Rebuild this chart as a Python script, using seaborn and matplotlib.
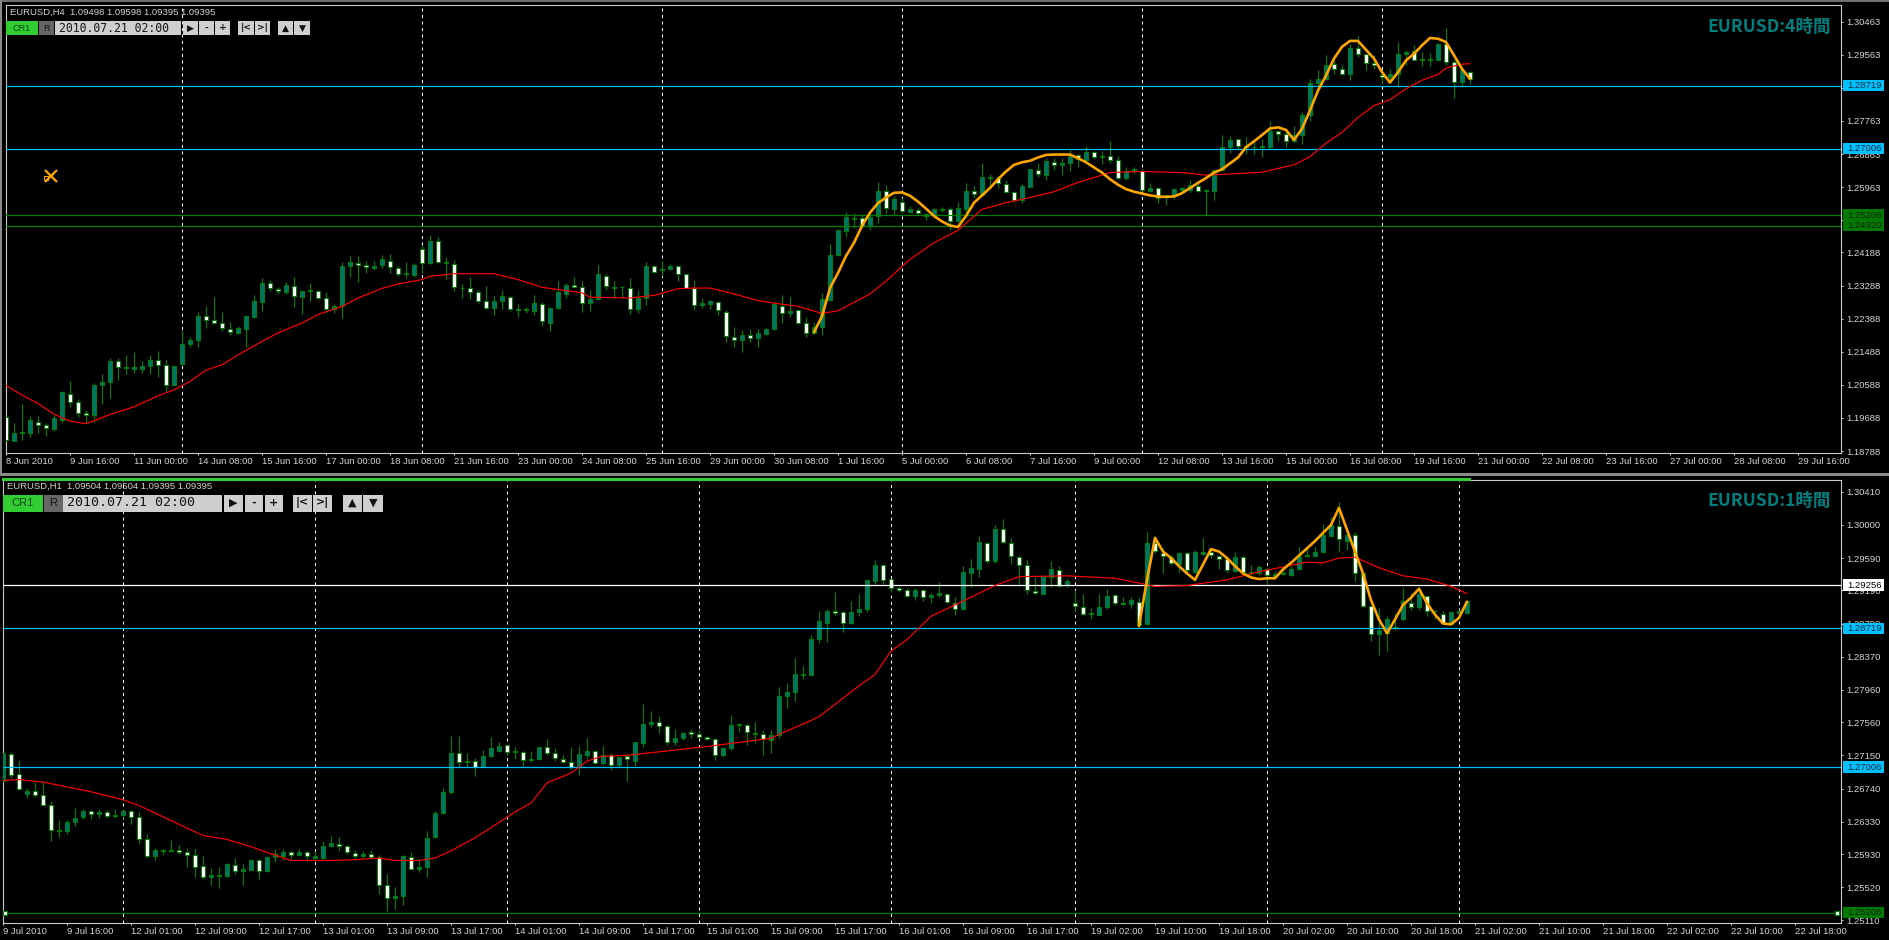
import pandas as pd
import matplotlib
matplotlib.use("Agg")
import matplotlib.pyplot as plt
from matplotlib.patches import Rectangle
import seaborn as sns

# ---- H4 panel data ----
h4_open = [
    1.1970,1.1907,1.1927,1.1929,1.1959,1.1949,1.1940,1.1963,1.2034,1.2012,
    1.1982,1.1976,1.2058,1.2066,1.2124,1.2104,1.2101,1.2101,1.2109,1.2127,
    1.2113,1.2058,1.2115,1.2169,1.2180,1.2246,1.2235,1.2227,1.2211,1.2201,
    1.2211,1.2243,1.2284,1.2336,1.2320,1.2311,1.2328,1.2298,1.2315,1.2315,
    1.2295,1.2265,1.2273,1.2382,1.2391,1.2385,1.2377,1.2385,1.2396,1.2377,
    1.2359,1.2358,1.2427,1.2389,1.2449,1.2389,1.2388,1.2321,1.2322,1.2312,
    1.2288,1.2268,1.2287,1.2298,1.2263,1.2266,1.2260,1.2279,1.2227,1.2268,
    1.2306,1.2331,1.2326,1.2280,1.2293,1.2355,1.2323,1.2325,1.2322,1.2265,
    1.2295,1.2383,1.2372,1.2374,1.2381,1.2359,1.2322,1.2277,1.2279,1.2285,
    1.2258,1.2189,1.2180,1.2194,1.2186,1.2197,1.2210,1.2274,1.2254,1.2261,
    1.2228,1.2199,1.2216,1.2290,1.2413,1.2478,1.2511,1.2512,1.2492,1.2517,
    1.2585,1.2538,1.2555,1.2530,1.2535,1.2524,1.2520,1.2535,1.2536,1.2503,
    1.2537,1.2585,1.2576,1.2621,1.2622,1.2606,1.2582,1.2561,1.2598,1.2644,
    1.2629,1.2664,1.2656,1.2661,1.2685,1.2670,1.2691,1.2677,1.2680,1.2669,
    1.2620,1.2641,1.2641,1.2586,1.2593,1.2570,1.2571,1.2588,1.2588,1.2600,
    1.2586,1.2587,1.2643,1.2705,1.2726,1.2705,1.2705,1.2706,1.2706,1.2749,
    1.2740,1.2721,1.2737,1.2792,1.2879,1.2890,1.2931,1.2918,1.2905,1.2976,
    1.2958,1.2934,1.2901,1.2895,1.2905,1.2959,1.2966,1.2943,1.2943,1.2942,
    1.2987,1.2937,1.2882,1.2909]
h4_high = [
    1.1981,1.1956,1.2007,1.1974,1.1974,1.1956,1.1977,1.2042,1.2070,1.2019,
    1.1990,1.2063,1.2088,1.2131,1.2133,1.2140,1.2147,1.2124,1.2139,1.2152,
    1.2127,1.2111,1.2209,1.2188,1.2256,1.2272,1.2297,1.2256,1.2231,1.2220,
    1.2248,1.2302,1.2348,1.2345,1.2324,1.2338,1.2352,1.2315,1.2336,1.2318,
    1.2311,1.2279,1.2392,1.2409,1.2409,1.2395,1.2395,1.2412,1.2415,1.2383,
    1.2392,1.2391,1.2438,1.2466,1.2461,1.2406,1.2397,1.2334,1.2351,1.2318,
    1.2327,1.2300,1.2316,1.2300,1.2279,1.2270,1.2304,1.2283,1.2271,1.2342,
    1.2336,1.2352,1.2341,1.2318,1.2386,1.2359,1.2341,1.2327,1.2350,1.2318,
    1.2392,1.2386,1.2395,1.2388,1.2382,1.2361,1.2343,1.2295,1.2290,1.2286,
    1.2261,1.2215,1.2207,1.2211,1.2210,1.2213,1.2281,1.2302,1.2297,1.2263,
    1.2242,1.2231,1.2309,1.2441,1.2482,1.2530,1.2527,1.2523,1.2523,1.2611,
    1.2603,1.2573,1.2568,1.2545,1.2539,1.2527,1.2539,1.2543,1.2543,1.2556,
    1.2607,1.2600,1.2663,1.2632,1.2627,1.2617,1.2586,1.2605,1.2646,1.2663,
    1.2675,1.2675,1.2675,1.2697,1.2686,1.2708,1.2694,1.2695,1.2723,1.2681,
    1.2650,1.2650,1.2645,1.2608,1.2597,1.2574,1.2594,1.2597,1.2615,1.2614,
    1.2591,1.2646,1.2738,1.2736,1.2727,1.2734,1.2723,1.2727,1.2777,1.2750,
    1.2746,1.2763,1.2800,1.2891,1.2916,1.2955,1.2941,1.2928,1.2985,1.3007,
    1.2959,1.2955,1.2914,1.2918,1.2990,1.2968,1.2984,1.2964,1.2961,1.2989,
    1.3029,1.2941,1.2916,1.2911]
h4_low = [
    1.1899,1.1906,1.1910,1.1917,1.1929,1.1920,1.1933,1.1957,1.1999,1.1972,
    1.1954,1.1958,1.2006,1.2022,1.2072,1.2089,1.2092,1.2090,1.2088,1.2081,
    1.2040,1.2057,1.2113,1.2161,1.2161,1.2213,1.2225,1.2204,1.2195,1.2197,
    1.2163,1.2240,1.2259,1.2313,1.2306,1.2306,1.2270,1.2251,1.2288,1.2292,
    1.2254,1.2254,1.2240,1.2352,1.2338,1.2363,1.2372,1.2377,1.2363,1.2354,
    1.2350,1.2352,1.2363,1.2388,1.2389,1.2347,1.2315,1.2295,1.2293,1.2282,
    1.2266,1.2248,1.2264,1.2259,1.2243,1.2254,1.2250,1.2220,1.2204,1.2266,
    1.2295,1.2324,1.2257,1.2259,1.2290,1.2318,1.2295,1.2295,1.2251,1.2254,
    1.2277,1.2365,1.2354,1.2371,1.2341,1.2321,1.2261,1.2268,1.2265,1.2248,
    1.2175,1.2163,1.2148,1.2175,1.2163,1.2195,1.2208,1.2227,1.2242,1.2226,
    1.2190,1.2198,1.2195,1.2288,1.2410,1.2461,1.2486,1.2486,1.2480,1.2500,
    1.2527,1.2524,1.2527,1.2528,1.2524,1.2506,1.2518,1.2530,1.2479,1.2502,
    1.2518,1.2568,1.2574,1.2595,1.2593,1.2581,1.2557,1.2552,1.2597,1.2625,
    1.2616,1.2644,1.2630,1.2639,1.2650,1.2668,1.2672,1.2659,1.2661,1.2619,
    1.2615,1.2632,1.2586,1.2582,1.2554,1.2548,1.2563,1.2584,1.2584,1.2584,
    1.2520,1.2562,1.2641,1.2688,1.2700,1.2686,1.2686,1.2679,1.2703,1.2723,
    1.2706,1.2718,1.2714,1.2777,1.2867,1.2887,1.2905,1.2901,1.2887,1.2950,
    1.2914,1.2918,1.2878,1.2879,1.2868,1.2928,1.2941,1.2926,1.2926,1.2941,
    1.2928,1.2838,1.2868,1.2878]
h4_close = [
    1.1908,1.1928,1.1931,1.1963,1.1949,1.1941,1.1969,1.2038,1.2012,1.1982,
    1.1977,1.2059,1.2067,1.2124,1.2108,1.2108,1.2106,1.2111,1.2127,1.2113,
    1.2059,1.2111,1.2170,1.2181,1.2247,1.2236,1.2228,1.2212,1.2203,1.2212,
    1.2245,1.2288,1.2337,1.2321,1.2313,1.2330,1.2299,1.2315,1.2316,1.2296,
    1.2266,1.2274,1.2383,1.2394,1.2386,1.2378,1.2383,1.2400,1.2379,1.2359,
    1.2362,1.2386,1.2389,1.2449,1.2392,1.2392,1.2324,1.2323,1.2312,1.2288,
    1.2269,1.2288,1.2299,1.2266,1.2266,1.2261,1.2280,1.2233,1.2269,1.2310,
    1.2331,1.2326,1.2281,1.2293,1.2359,1.2327,1.2326,1.2326,1.2266,1.2295,
    1.2382,1.2366,1.2374,1.2382,1.2359,1.2322,1.2277,1.2281,1.2286,1.2261,
    1.2192,1.2181,1.2195,1.2187,1.2199,1.2211,1.2279,1.2254,1.2260,1.2228,
    1.2200,1.2216,1.2291,1.2413,1.2479,1.2514,1.2513,1.2491,1.2515,1.2586,
    1.2539,1.2564,1.2531,1.2537,1.2525,1.2519,1.2537,1.2536,1.2503,1.2539,
    1.2586,1.2577,1.2625,1.2623,1.2609,1.2583,1.2561,1.2599,1.2645,1.2632,
    1.2667,1.2656,1.2663,1.2682,1.2672,1.2692,1.2677,1.2681,1.2670,1.2621,
    1.2641,1.2645,1.2588,1.2593,1.2568,1.2574,1.2591,1.2593,1.2603,1.2585,
    1.2589,1.2643,1.2706,1.2725,1.2708,1.2708,1.2706,1.2709,1.2750,1.2741,
    1.2722,1.2738,1.2793,1.2880,1.2891,1.2929,1.2918,1.2905,1.2976,1.2959,
    1.2935,1.2929,1.2897,1.2905,1.2959,1.2964,1.2943,1.2946,1.2946,1.2987,
    1.2937,1.2883,1.2914,1.2890]

h4_ma_bar = [0,2,4,6,8,10,13,16,19,21,23,25,27,29,32,34,37,39,42,44,47,49,52,53,56,61,64,67,69,72,73,
             78,81,84,86,88,91,94,96,99,102,104,108,110,113,116,119,122,125,128,131,134,138,142,147,150,153,
             157,159,161,163,165,167,169,171,173,175,177,179,180,182,183]
h4_ma = [1.2057,1.2031,1.2008,1.1979,1.1960,1.1953,1.1978,1.1999,1.2029,1.2045,1.2068,1.2099,1.2113,1.2140,
         1.2177,1.2200,1.2227,1.2250,1.2272,1.2295,1.2321,1.2333,1.2345,1.2354,1.2361,1.2361,1.2345,1.2324,
         1.2318,1.2309,1.2297,1.2295,1.2302,1.2320,1.2322,1.2322,1.2306,1.2288,1.2281,1.2272,1.2253,1.2260,
         1.2306,1.2341,1.2400,1.2445,1.2479,1.2536,1.2554,1.2568,1.2584,1.2609,1.2636,1.2639,1.2636,1.2629,
         1.2632,1.2637,1.2647,1.2657,1.2679,1.2716,1.2745,1.2786,1.2818,1.2834,1.2864,1.2887,1.2903,1.2920,
         1.2931,1.2932]
h4_zz_bar = list(range(101, 184))
h4_zz = [1.2202,1.2245,1.2322,1.2363,1.2409,1.2445,1.2491,1.2527,1.2553,1.2568,1.2581,1.2582,1.2573,1.2557,
         1.2538,1.2518,1.2503,1.2492,1.2488,1.2518,1.2554,1.2574,1.2594,1.2618,1.2639,1.2657,1.2664,1.2668,
         1.2677,1.2684,1.2685,1.2685,1.2685,1.2675,1.2664,1.2650,1.2636,1.2618,1.2603,1.2591,1.2584,1.2579,
         1.2574,1.2571,1.2570,1.2571,1.2580,1.2594,1.2608,1.2621,1.2636,1.2645,1.2661,1.2677,1.2705,1.2721,
         1.2738,1.2756,1.2759,1.2752,1.2725,1.2755,1.2805,1.2859,1.2900,1.2946,1.2978,1.2994,1.2994,1.2970,
         1.2946,1.2909,1.2881,1.2909,1.2941,1.2959,1.2982,1.3002,1.3000,1.2991,1.2955,1.2918,1.2891]

h4_xlabels = ["8 Jun 2010","9 Jun 16:00","11 Jun 00:00","14 Jun 08:00","15 Jun 16:00","17 Jun 00:00",
              "18 Jun 08:00","21 Jun 16:00","23 Jun 00:00","24 Jun 08:00","25 Jun 16:00","29 Jun 00:00",
              "30 Jun 08:00","1 Jul 16:00","5 Jul 00:00","6 Jul 08:00","7 Jul 16:00","9 Jul 00:00",
              "12 Jul 08:00","13 Jul 16:00","15 Jul 00:00","16 Jul 08:00","19 Jul 16:00","21 Jul 00:00",
              "22 Jul 08:00","23 Jul 16:00","27 Jul 00:00","28 Jul 08:00","29 Jul 16:00"]
h4_yticks = [1.30463,1.29563,1.28663,1.27763,1.26863,1.25963,1.25063,1.24188,1.23288,1.22388,1.21488,
             1.20588,1.19688,1.18788]
h4_grid_bars = [22,52,82,112,142,172]

# ---- H1 panel data ----
h1_open = [
    1.2683,1.2717,1.2692,1.2667,1.2671,1.2666,1.2653,1.2622,1.2621,1.2632,
    1.2639,1.2646,1.2642,1.2645,1.2640,1.2641,1.2646,1.2639,1.2612,1.2590,
    1.2597,1.2597,1.2598,1.2595,1.2592,1.2578,1.2565,1.2566,1.2566,1.2579,
    1.2572,1.2573,1.2586,1.2572,1.2589,1.2591,1.2595,1.2592,1.2595,1.2588,
    1.2588,1.2603,1.2606,1.2603,1.2594,1.2590,1.2593,1.2589,1.2555,1.2538,
    1.2541,1.2589,1.2575,1.2577,1.2614,1.2644,1.2670,1.2718,1.2707,1.2708,
    1.2701,1.2714,1.2720,1.2728,1.2719,1.2719,1.2709,1.2711,1.2725,1.2718,
    1.2710,1.2707,1.2700,1.2716,1.2720,1.2705,1.2716,1.2703,1.2714,1.2708,
    1.2730,1.2754,1.2756,1.2751,1.2731,1.2737,1.2744,1.2741,1.2738,1.2735,
    1.2715,1.2724,1.2753,1.2753,1.2741,1.2742,1.2734,1.2740,1.2788,1.2793,
    1.2814,1.2814,1.2859,1.2879,1.2893,1.2892,1.2879,1.2892,1.2896,1.2931,
    1.2950,1.2933,1.2922,1.2919,1.2912,1.2919,1.2911,1.2913,1.2915,1.2904,
    1.2896,1.2941,1.2946,1.2977,1.2955,1.2995,1.2978,1.2960,1.2951,1.2918,
    1.2915,1.2935,1.2944,1.2926,1.2904,1.2899,1.2890,1.2889,1.2898,1.2913,
    1.2902,1.2902,1.2905,1.2877,1.2977,1.2965,1.2960,1.2952,1.2965,1.2942,
    1.2964,1.2967,1.2962,1.2958,1.2943,1.2960,1.2941,1.2940,1.2945,1.2937,
    1.2939,1.2938,1.2945,1.2961,1.2962,1.2967,1.2986,1.2999,1.2980,1.2987,
    1.2940,1.2900,1.2865,1.2866,1.2872,1.2883,1.2904,1.2898,1.2912,1.2893,
    1.2890,1.2877,1.2891,1.2891]
h1_high = [
    1.2722,1.2719,1.2709,1.2675,1.2682,1.2683,1.2659,1.2635,1.2635,1.2650,
    1.2649,1.2648,1.2649,1.2647,1.2649,1.2648,1.2647,1.2645,1.2618,1.2600,
    1.2599,1.2610,1.2604,1.2600,1.2600,1.2590,1.2576,1.2577,1.2582,1.2588,
    1.2581,1.2587,1.2587,1.2590,1.2599,1.2599,1.2597,1.2599,1.2597,1.2597,
    1.2609,1.2615,1.2614,1.2604,1.2598,1.2597,1.2598,1.2592,1.2568,1.2552,
    1.2592,1.2595,1.2587,1.2621,1.2646,1.2675,1.2739,1.2739,1.2718,1.2712,
    1.2722,1.2738,1.2732,1.2728,1.2725,1.2720,1.2721,1.2725,1.2735,1.2724,
    1.2716,1.2725,1.2727,1.2737,1.2721,1.2726,1.2718,1.2714,1.2717,1.2732,
    1.2778,1.2770,1.2764,1.2752,1.2748,1.2744,1.2747,1.2746,1.2739,1.2737,
    1.2725,1.2765,1.2755,1.2754,1.2756,1.2746,1.2746,1.2799,1.2804,1.2835,
    1.2826,1.2864,1.2893,1.2896,1.2917,1.2893,1.2906,1.2914,1.2932,1.2956,
    1.2951,1.2933,1.2924,1.2922,1.2922,1.2921,1.2916,1.2929,1.2916,1.2911,
    1.2949,1.2958,1.2986,1.2979,1.3000,1.3007,1.2984,1.2962,1.2957,1.2936,
    1.2938,1.2955,1.2949,1.2933,1.2919,1.2914,1.2897,1.2914,1.2921,1.2914,
    1.2911,1.2911,1.2911,1.2991,1.2984,1.2972,1.2963,1.2966,1.2966,1.2969,
    1.2984,1.2972,1.2963,1.2960,1.2966,1.2961,1.2951,1.2951,1.2948,1.2943,
    1.2944,1.2949,1.2973,1.2971,1.2973,1.3001,1.3010,1.3028,1.2992,1.2991,
    1.2942,1.2901,1.2897,1.2887,1.2891,1.2922,1.2916,1.2920,1.2912,1.2895,
    1.2893,1.2893,1.2895,1.2907]
h1_low = [
    1.2683,1.2687,1.2672,1.2662,1.2663,1.2653,1.2609,1.2614,1.2618,1.2628,
    1.2636,1.2636,1.2637,1.2637,1.2637,1.2637,1.2630,1.2606,1.2588,1.2586,
    1.2592,1.2597,1.2593,1.2577,1.2565,1.2562,1.2555,1.2551,1.2565,1.2568,
    1.2555,1.2573,1.2562,1.2571,1.2583,1.2586,1.2587,1.2590,1.2584,1.2584,
    1.2586,1.2602,1.2597,1.2593,1.2586,1.2588,1.2588,1.2543,1.2523,1.2525,
    1.2530,1.2574,1.2571,1.2565,1.2613,1.2643,1.2667,1.2700,1.2700,1.2690,
    1.2700,1.2713,1.2719,1.2716,1.2710,1.2702,1.2707,1.2709,1.2716,1.2708,
    1.2706,1.2698,1.2691,1.2710,1.2704,1.2703,1.2697,1.2701,1.2683,1.2702,
    1.2725,1.2750,1.2743,1.2728,1.2728,1.2734,1.2737,1.2736,1.2734,1.2709,
    1.2713,1.2722,1.2744,1.2728,1.2730,1.2716,1.2718,1.2737,1.2774,1.2782,
    1.2809,1.2814,1.2854,1.2855,1.2888,1.2868,1.2878,1.2887,1.2892,1.2927,
    1.2927,1.2917,1.2917,1.2911,1.2907,1.2906,1.2904,1.2911,1.2903,1.2889,
    1.2895,1.2923,1.2936,1.2953,1.2953,1.2977,1.2952,1.2924,1.2915,1.2915,
    1.2914,1.2923,1.2923,1.2923,1.2893,1.2889,1.2883,1.2888,1.2896,1.2901,
    1.2901,1.2897,1.2872,1.2876,1.2965,1.2941,1.2951,1.2942,1.2940,1.2940,
    1.2963,1.2959,1.2945,1.2942,1.2942,1.2940,1.2938,1.2938,1.2926,1.2936,
    1.2938,1.2937,1.2944,1.2960,1.2961,1.2965,1.2986,1.2966,1.2969,1.2930,
    1.2899,1.2856,1.2839,1.2844,1.2870,1.2881,1.2895,1.2895,1.2887,1.2883,
    1.2878,1.2877,1.2890,1.2890]
h1_close = [
    1.2718,1.2691,1.2674,1.2671,1.2666,1.2654,1.2623,1.2623,1.2633,1.2638,
    1.2646,1.2642,1.2645,1.2640,1.2641,1.2646,1.2639,1.2612,1.2590,1.2598,
    1.2598,1.2598,1.2595,1.2592,1.2577,1.2565,1.2567,1.2567,1.2581,1.2572,
    1.2574,1.2586,1.2572,1.2589,1.2593,1.2595,1.2592,1.2596,1.2590,1.2590,
    1.2603,1.2607,1.2603,1.2595,1.2591,1.2593,1.2589,1.2555,1.2538,1.2541,
    1.2590,1.2575,1.2577,1.2613,1.2644,1.2670,1.2718,1.2707,1.2708,1.2701,
    1.2714,1.2724,1.2727,1.2719,1.2721,1.2709,1.2711,1.2725,1.2718,1.2712,
    1.2707,1.2700,1.2717,1.2720,1.2706,1.2716,1.2703,1.2713,1.2710,1.2731,
    1.2754,1.2756,1.2751,1.2732,1.2737,1.2743,1.2742,1.2738,1.2735,1.2716,
    1.2724,1.2753,1.2754,1.2744,1.2743,1.2735,1.2740,1.2789,1.2793,1.2816,
    1.2816,1.2859,1.2881,1.2893,1.2891,1.2879,1.2892,1.2896,1.2932,1.2951,
    1.2932,1.2922,1.2919,1.2912,1.2919,1.2911,1.2913,1.2916,1.2905,1.2896,
    1.2942,1.2947,1.2979,1.2955,1.2995,1.2979,1.2962,1.2951,1.2920,1.2916,
    1.2937,1.2945,1.2925,1.2931,1.2900,1.2890,1.2891,1.2898,1.2912,1.2903,
    1.2904,1.2907,1.2876,1.2977,1.2968,1.2962,1.2953,1.2965,1.2944,1.2966,
    1.2967,1.2963,1.2958,1.2944,1.2960,1.2942,1.2942,1.2948,1.2938,1.2939,
    1.2940,1.2945,1.2962,1.2963,1.2967,1.2988,1.3000,1.2982,1.2987,1.2940,
    1.2900,1.2865,1.2870,1.2884,1.2874,1.2906,1.2898,1.2915,1.2894,1.2894,
    1.2879,1.2892,1.2893,1.2906]

h1_ma_bar = [0,2,5,8,11,15,17,20,23,25,28,31,33,36,41,44,47,49,52,54,56,59,62,64,66,68,71,73,75,
             78,88,96,97,101,102,104,107,109,111,113,116,119,124,127,133,139,142,144,148,153,
             157,158,163,165,167,169,172,175,178,181,183]
h1_ma = [1.2684,1.2685,1.2682,1.2676,1.2670,1.2660,1.2653,1.2639,1.2625,1.2616,1.2611,1.2602,1.2595,1.2585,
         1.2585,1.2586,1.2588,1.2585,1.2585,1.2588,1.2597,1.2613,1.2632,1.2645,1.2656,1.2681,1.2693,1.2708,
         1.2714,1.2715,1.2726,1.2736,1.2741,1.2758,1.2763,1.2778,1.2801,1.2815,1.2844,1.2858,1.2887,1.2901,
         1.2925,1.2936,1.2937,1.2934,1.2928,1.2924,1.2925,1.2932,1.2942,1.2944,1.2954,1.2953,1.2959,1.2960,
         1.2947,1.2937,1.2933,1.2924,1.2915]
h1_zz_bar = list(range(142, 184))
h1_zz = [1.2875,1.2932,1.2984,1.2967,1.2959,1.2949,1.2940,1.2932,1.2951,1.2970,1.2967,1.2959,1.2949,1.2940,
         1.2935,1.2933,1.2934,1.2934,1.2945,1.2953,1.2962,1.2971,1.2980,1.2990,1.3000,1.3021,1.2994,1.2967,
         1.2940,1.2907,1.2883,1.2866,1.2883,1.2901,1.2910,1.2921,1.2903,1.2889,1.2878,1.2877,1.2885,1.2905]

h1_xlabels = ["9 Jul 2010","9 Jul 16:00","12 Jul 01:00","12 Jul 09:00","12 Jul 17:00","13 Jul 01:00",
              "13 Jul 09:00","13 Jul 17:00","14 Jul 01:00","14 Jul 09:00","14 Jul 17:00","15 Jul 01:00",
              "15 Jul 09:00","15 Jul 17:00","16 Jul 01:00","16 Jul 09:00","16 Jul 17:00","19 Jul 02:00",
              "19 Jul 10:00","19 Jul 18:00","20 Jul 02:00","20 Jul 10:00","20 Jul 18:00","21 Jul 02:00",
              "21 Jul 10:00","21 Jul 18:00","22 Jul 02:00","22 Jul 10:00","22 Jul 18:00"]
h1_yticks = [1.30410,1.30000,1.29590,1.29190,1.28780,1.28370,1.27960,1.27560,1.27150,1.26740,1.26330,
             1.25930,1.25520,1.25110]
h1_grid_bars = [15,39,63,87,111,134,158,182]

# level lines: price, colour
h4_levels = [(1.28719,"#00BFFF"),(1.27006,"#00BFFF"),(1.25206,"#008000"),(1.24920,"#008000")]
h1_levels = [(1.29256,"#FFFFFF"),(1.28719,"#00BFFF"),(1.27006,"#00BFFF"),(1.25206,"#008000")]

W, H = 1890, 940
TICK_EVERY = 8
TXT = "#d4d4d4"

sns.set_theme(style="dark", rc={"figure.facecolor": "black", "axes.facecolor": "black",
                                "axes.edgecolor": "#c8c8c8", "text.color": TXT,
                                "xtick.color": TXT, "ytick.color": TXT})
plt.rcParams["font.family"] = ["Liberation Sans", "Noto Sans CJK JP", "DejaVu Sans"]

fig = plt.figure(figsize=(W / 100, H / 100), dpi=100)


def panel(left, top, right, bottom, ymax, ymin, xmin):
    ax = fig.add_axes([left / W, 1 - bottom / H, (right - left) / W, (bottom - top) / H])
    ax.set_xlim(xmin, xmin + (right - left) / 8)
    ax.set_ylim(ymin, ymax)
    for s in ax.spines.values():
        s.set_linewidth(0.8)
        s.set_color("#c8c8c8")
    return ax


def draw_panel(ax, o, h, l, c, ma_bar, ma, zz_bar, zz, grid_bars, levels, yticks, xlabels):
    df = pd.DataFrame({"open": o, "high": h, "low": l, "close": c})
    df["bar"] = df.index
    up = df[df["close"] >= df["open"]]
    down = df[df["close"] < df["open"]]

    for b in grid_bars:
        ax.axvline(b, color="white", lw=0.72, ls=(0, (3, 3.5)), zorder=1)

    ax.vlines(df["bar"], df["low"], df["high"], color="#008000", lw=0.8, zorder=2)
    ax.bar(up["bar"], up["close"] - up["open"], bottom=up["open"], width=0.5,
           color="#007270", edgecolor="#008000", linewidth=0.75, zorder=3)
    ax.bar(down["bar"], down["open"] - down["close"], bottom=down["close"], width=0.5,
           color="white", edgecolor="#008000", linewidth=0.75, zorder=3)

    for price, col in levels:
        ax.axhline(price, color=col, lw=0.9, zorder=4)

    sns.lineplot(x=ma_bar, y=ma, color="#FF0000", lw=0.85, estimator=None, sort=False, ax=ax, zorder=5)
    sns.lineplot(x=zz_bar, y=zz, color="#FFA500", lw=1.9, estimator=None, sort=False, ax=ax, zorder=6)

    ax.set_xlabel("")
    ax.set_ylabel("")
    ax.yaxis.tick_right()
    ax.set_yticks(yticks)
    ax.set_yticklabels([f"{v:.5f}" for v in yticks], fontsize=6.8)
    ax.set_xticks([i * TICK_EVERY for i in range(len(xlabels))])
    ax.set_xticklabels(xlabels, fontsize=6.8, ha="left")
    ax.tick_params(axis="both", length=1.6, width=0.7, pad=2, color=TXT, bottom=True, right=True)
    ax.tick_params(axis="x", pad=1.5)


def price_tag(ax, price, fill, text_col="#102a3a", px_per_price=1.0, ax_width=1835):
    trans = ax.get_yaxis_transform()
    half = 5.6 / px_per_price
    ax.add_patch(Rectangle((1 + 2 / ax_width, price - half), 41 / ax_width, 2 * half, transform=trans,
                           facecolor=fill, edgecolor="none", clip_on=False, zorder=10))
    ax.text(1 + 6 / ax_width, price, f"{price:.5f}", transform=trans, fontsize=6.8, color=text_col,
            va="center", ha="left", clip_on=False, zorder=11)


# top panel, 4 hours
h4_ymax, h4_ymin = 1.30917, 1.18734
ax_h4 = panel(6, 5, 1841, 453, h4_ymax, h4_ymin, 0)
draw_panel(ax_h4, h4_open, h4_high, h4_low, h4_close, h4_ma_bar, h4_ma, h4_zz_bar, h4_zz,
           h4_grid_bars, h4_levels, h4_yticks, h4_xlabels)
px4 = 448 / (h4_ymax - h4_ymin)
price_tag(ax_h4, 1.28719, "#00BFFF", px_per_price=px4, ax_width=1835)
price_tag(ax_h4, 1.27006, "#00BFFF", px_per_price=px4, ax_width=1835)
price_tag(ax_h4, 1.25206, "#007a00", "#06240a", px4, 1835)
price_tag(ax_h4, 1.24920, "#007a00", "#06240a", px4, 1835)
ax_h4.text(0.9946, 0.952, "EURUSD:4時間", transform=ax_h4.transAxes, color="#007f7f", fontsize=12.6,
           fontweight="bold", ha="right", va="center", family=["Noto Sans CJK JP", "DejaVu Sans"], zorder=9)
# arrow marker left on the chart
ax_h4.plot([5.6], [1.2628], marker="x", ms=9, mew=1.6, color="#FFA500", zorder=7)
ax_h4.plot([5.0], [1.2622], marker="s", ms=3.5, mew=0.8, mfc="none", color="#FFA500", zorder=7)

# bottom panel, 1 hour
h1_ymax, h1_ymin = 1.30555, 1.25077
ax_h1 = panel(3, 480, 1841, 923, h1_ymax, h1_ymin, 0)
draw_panel(ax_h1, h1_open, h1_high, h1_low, h1_close, h1_ma_bar, h1_ma, h1_zz_bar, h1_zz,
           h1_grid_bars, h1_levels, h1_yticks, h1_xlabels)
px1 = 443 / (h1_ymax - h1_ymin)
price_tag(ax_h1, 1.29256, "#FFFFFF", "#000000", px1, 1838)
price_tag(ax_h1, 1.28719, "#00BFFF", px_per_price=px1, ax_width=1838)
price_tag(ax_h1, 1.27006, "#00BFFF", px_per_price=px1, ax_width=1838)
price_tag(ax_h1, 1.25206, "#007a00", "#06240a", px1, 1838)
ax_h1.text(0.9946, 0.953, "EURUSD:1時間", transform=ax_h1.transAxes, color="#007f7f", fontsize=12.6,
           fontweight="bold", ha="right", va="center", family=["Noto Sans CJK JP", "DejaVu Sans"], zorder=9)
for b in [0.25, 229.2]:
    ax_h1.plot([b], [1.25206], marker="s", ms=3, mew=0.8, mfc="white", mec="#008000", zorder=7, clip_on=False)

# window chrome and the little toolbars, in pixels on an overlay
ui = fig.add_axes([0, 0, 1, 1], facecolor="none", zorder=20)
ui.set_xlim(0, W)
ui.set_ylim(H, 0)
ui.axis("off")


def box(x0, y0, x1, y1, fc, ec="none"):
    ui.add_patch(Rectangle((x0, y0), x1 - x0, y1 - y0, facecolor=fc, edgecolor=ec, lw=0.6))


box(0, 0, W, 2, "#707070")
box(0, 0, 2, 476, "#8a8a8a")
box(0, 473, W, 476, "#8a8a8a")
box(2, 478, 1471, 481, "#32CD32")


def toolbar(x, ymid, h_half, cr, r, date, btns, fs, mono_fs, label, label_x, label_y):
    ui.text(label_x, label_y, label, fontsize=6.8, color=TXT, va="center", ha="left")
    y0, y1 = ymid - h_half, ymid + h_half
    box(cr[0], y0, cr[1], y1, "#32CD32")
    ui.text((cr[0] + cr[1]) / 2, ymid + 0.5, "CR1", fontsize=fs, color="#0a4a12", ha="center", va="center")
    box(r[0], y0, r[1], y1, "#666666")
    ui.text((r[0] + r[1]) / 2, ymid + 0.5, "R", fontsize=fs, color="#151515", ha="center", va="center")
    box(date[0], y0, date[1], y1, "#cfcfcf")
    ui.text(date[0] + 4, ymid, "2010.07.21 02:00", fontsize=mono_fs, color="#151515", ha="left", va="center",
            family="DejaVu Sans Mono")
    for (b0, b1), mark in btns:
        box(b0, y0, b1, y1, "#cfcfcf")
        ui.text((b0 + b1) / 2, ymid, mark, fontsize=fs, color="#111111", ha="center", va="center",
                family=["DejaVu Sans"], fontweight="bold")


toolbar(0, 28, 7, (6, 38), (39, 54), (55, 181),
        [((183, 198), "▶"), ((199, 214), "-"), ((215, 230), "+"), ((238, 254), "|<"), ((255, 270), ">|"),
         ((278, 293), "▲"), ((294, 310), "▼")],
        6.6, 8.3, "EURUSD,H4  1.09498 1.09598 1.09395 1.09395", 10, 12.5)
toolbar(0, 503, 8.5, (3, 43), (44, 63), (63, 222),
        [((224, 243), "▶"), ((245, 263), "-"), ((265, 283), "+"), ((293, 312), "|<"), ((313, 332), ">|"),
         ((343, 362), "▲"), ((363, 383), "▼")],
        8.0, 9.5, "EURUSD,H1  1.09504 1.09504 1.09395 1.09395", 7, 486.7)

fig.savefig("out.png", dpi=100, facecolor="black")
